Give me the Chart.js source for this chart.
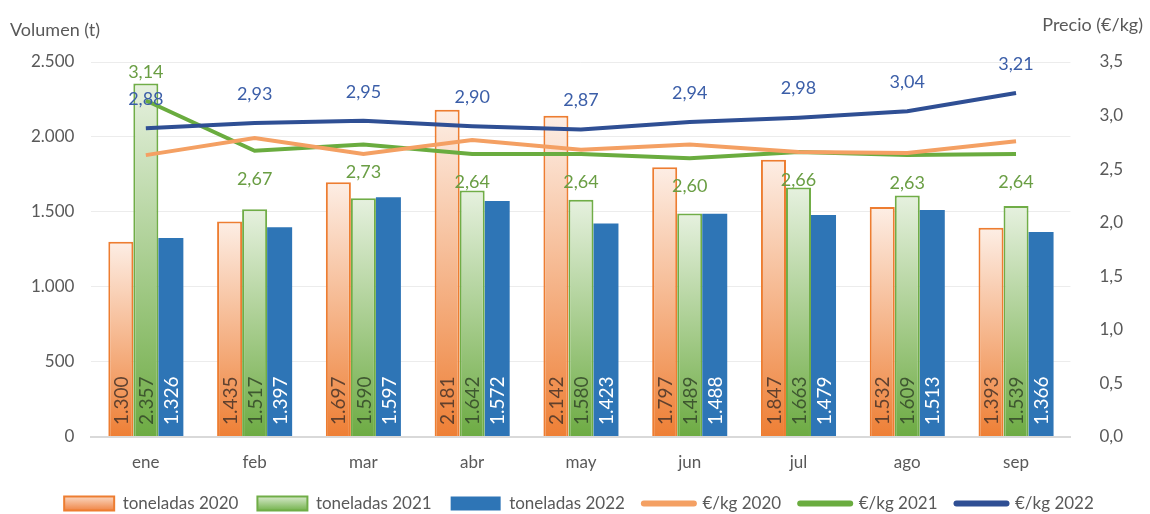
<!DOCTYPE html>
<html>
<head>
<meta charset="utf-8">
<script src="https://cdn.jsdelivr.net/npm/chart.js@4.4.1/dist/chart.umd.min.js"></script>
<style>
  html, body { margin: 0; padding: 0; background: #fff; }
  #wrap { width: 1150px; height: 514px; position: relative; }
</style>
</head>
<body>
<div id="wrap"><canvas id="chart"></canvas></div>
<script>
const months = ["ene", "feb", "mar", "abr", "may", "jun", "jul", "ago", "sep"];

const tons2020 = [1300, 1435, 1697, 2181, 2142, 1797, 1847, 1532, 1393];
const tons2021 = [2357, 1517, 1590, 1642, 1580, 1489, 1663, 1609, 1539];
const tons2022 = [1326, 1397, 1597, 1572, 1423, 1488, 1479, 1513, 1366];

const price2020 = [2.63, 2.79, 2.64, 2.77, 2.68, 2.73, 2.66, 2.65, 2.76];
const price2021 = [3.14, 2.67, 2.73, 2.64, 2.64, 2.60, 2.66, 2.63, 2.64];
const price2022 = [2.88, 2.93, 2.95, 2.90, 2.87, 2.94, 2.98, 3.04, 3.21];

const volTicks = [0, 500, 1000, 1500, 2000, 2500];
const priceTicks = [0, 0.5, 1, 1.5, 2, 2.5, 3, 3.5];

const FONT = "Lato, 'Open Sans', sans-serif";
const GREY = "#595959";

// gradient per bar, pale at the top and full colour at the base
function barGradient(light, dark) {
  return function (ctx) {
    if (ctx.type !== "data") return dark;
    const chart = ctx.chart;
    const y = chart.scales.y;
    if (!y) return dark;
    const top = y.getPixelForValue(ctx.raw);
    const bottom = y.getPixelForValue(0);
    if (!isFinite(top) || !isFinite(bottom) || top === bottom) return dark;
    const g = chart.ctx.createLinearGradient(0, top, 0, bottom);
    g.addColorStop(0, light);
    g.addColorStop(1, dark);
    return g;
  };
}

function fmtThousands(v) {
  return String(v).replace(/\B(?=(\d{3})+(?!\d))/g, ".");
}

// labels for bars (rotated at base) and price lines
const valueLabels = {
  id: "valueLabels",
  afterDatasetsDraw(chart) {
    const ctx = chart.ctx;
    chart.data.datasets.forEach(function (ds, i) {
      const meta = chart.getDatasetMeta(i);
      if (!ds.labelStyle) return;
      meta.data.forEach(function (el, j) {
        const v = ds.data[j];
        ctx.save();
        ctx.fillStyle = ds.labelStyle.color;
        if (ds.type === "bar") {
          ctx.font = "19px " + FONT;
          ctx.translate(el.x, el.base - 11);
          ctx.rotate(-Math.PI / 2);
          ctx.textAlign = "left";
          ctx.textBaseline = "middle";
          ctx.fillText(fmtThousands(v), 0, 1);
        } else {
          ctx.font = "18px " + FONT;
          ctx.textAlign = "center";
          ctx.textBaseline = "middle";
          let dy = ds.labelStyle.offset;
          if (ds.labelStyle.flip && ds.labelStyle.flip[j]) dy = -dy;
          ctx.fillText(v.toFixed(2).replace(".", ","), el.x, el.y + dy);
        }
        ctx.restore();
      });
    });
  }
};

// horizontal axis titles at the top corners, and a tighter legend box
const axisTitles = {
  id: "axisTitles",
  beforeUpdate(chart) {
    const lg = chart.legend;
    if (lg && !lg._tight) {
      const fit = lg.fit;
      lg.fit = function () {
        fit.call(this);
        this.height -= 8;
      };
      lg._tight = true;
    }
  },
  afterDraw(chart) {
    const ctx = chart.ctx;
    ctx.save();
    ctx.fillStyle = GREY;
    ctx.font = "18px " + FONT;
    ctx.textBaseline = "middle";
    ctx.textAlign = "left";
    ctx.fillText("Volumen (t)", 10, 30);
    ctx.textAlign = "right";
    ctx.fillText("Precio (€/kg)", 1143, 25);
    ctx.restore();
  }
};

const orangeGrad = barGradient("#fdeee5", "#ee7f35");
const greenGrad = barGradient("#e6f1df", "#6dab43");

new Chart(document.getElementById("chart"), {
  data: {
    labels: months,
    datasets: [
      {
        type: "bar",
        label: "toneladas 2020",
        data: tons2020,
        yAxisID: "y",
        backgroundColor: orangeGrad,
        borderColor: "#ed7d31",
        borderWidth: 2,
        order: 2,
        labelStyle: { color: "rgba(70,50,40,0.85)" }
      },
      {
        type: "bar",
        label: "toneladas 2021",
        data: tons2021,
        yAxisID: "y",
        backgroundColor: greenGrad,
        borderColor: "#70ad47",
        borderWidth: 2,
        order: 2,
        labelStyle: { color: "rgba(50,70,40,0.85)" }
      },
      {
        type: "bar",
        label: "toneladas 2022",
        data: tons2022,
        yAxisID: "y",
        backgroundColor: "#2e75b6",
        borderWidth: 0,
        order: 2,
        labelStyle: { color: "#ffffff" }
      },
      {
        type: "line",
        label: "€/kg 2020",
        data: price2020,
        yAxisID: "y1",
        borderColor: "#f4a063",
        borderWidth: 4,
        pointRadius: 0,
        tension: 0,
        order: 1
      },
      {
        type: "line",
        label: "€/kg 2021",
        data: price2021,
        yAxisID: "y1",
        borderColor: "#6aac3f",
        borderWidth: 4,
        pointRadius: 0,
        tension: 0,
        order: 1,
        labelStyle: { color: "#6a9e44", offset: 28, flip: [true] }
      },
      {
        type: "line",
        label: "€/kg 2022",
        data: price2022,
        yAxisID: "y1",
        borderColor: "#2f4f94",
        borderWidth: 4,
        pointRadius: 0,
        tension: 0,
        order: 0,
        labelStyle: { color: "#3b5ea8", offset: -29 }
      }
    ]
  },
  options: {
    responsive: true,
    maintainAspectRatio: false,
    animation: false,
    layout: { padding: { top: 62, left: 14, right: 6, bottom: 0 } },
    datasets: {
      bar: { categoryPercentage: 0.69, barPercentage: 1 }
    },
    scales: {
      x: {
        grid: { display: false },
        border: { display: true, color: "#d9d9d9", width: 2 },
        ticks: { color: GREY, font: { family: FONT, size: 17 }, padding: 8 },
        afterFit(axis) { axis.height -= 5; }
      },
      y: {
        position: "left",
        min: 0,
        max: 2500,
        afterBuildTicks(axis) { axis.ticks = volTicks.map(v => ({ value: v })); },
        grid: { color: "#ececec", drawTicks: false },
        border: { display: false },
        ticks: {
          color: GREY,
          font: { family: FONT, size: 17 },
          padding: 17,
          callback: v => fmtThousands(v)
        }
      },
      y1: {
        position: "right",
        min: 0,
        max: 3.5,
        afterBuildTicks(axis) { axis.ticks = priceTicks.map(v => ({ value: v })); },
        grid: { display: false },
        border: { display: false },
        ticks: {
          color: GREY,
          font: { family: FONT, size: 17 },
          padding: 21,
          callback: v => v.toFixed(1).replace(".", ",")
        }
      }
    },
    plugins: {
      tooltip: { enabled: false },
      legend: {
        position: "bottom",
        labels: {
          color: GREY,
          font: { family: FONT, size: 17 },
          usePointStyle: true,
          pointStyleWidth: 50,
          boxHeight: 14,
          padding: 19,
          generateLabels(chart) {
            return chart.data.datasets.map(function (ds, i) {
              const isBar = ds.type === "bar";
              let fill = ds.backgroundColor;
              if (typeof fill === "function") {
                const g = chart.ctx.createLinearGradient(0, 495, 0, 510);
                g.addColorStop(0, i === 0 ? "#fbe0cf" : "#e2efd9");
                g.addColorStop(1, i === 0 ? "#f0884a" : "#78b552");
                fill = g;
              }
              return {
                text: ds.label,
                datasetIndex: i,
                fillStyle: isBar ? fill : ds.borderColor,
                strokeStyle: ds.borderColor || fill,
                lineWidth: isBar ? (ds.borderWidth || 0) : 6,
                lineCap: "round",
                pointStyle: isBar ? "rect" : "line",
                fontColor: GREY,
                hidden: false
              };
            });
          }
        }
      }
    }
  },
  plugins: [valueLabels, axisTitles]
});
</script>
</body>
</html>
